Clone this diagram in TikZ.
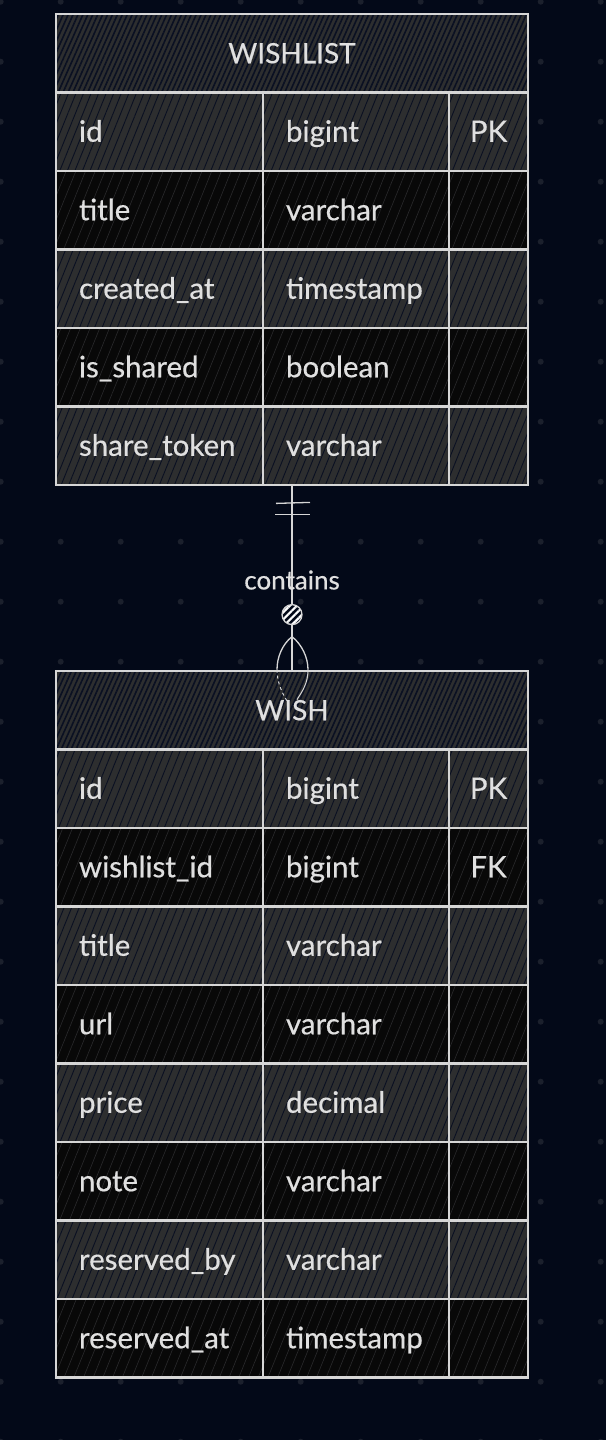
\documentclass[tikz,border=0pt]{standalone}
\usepackage{fontspec}
\setmainfont{Lato}
\newfontfamily\erfont{Lato}[FakeBold=0.5]
\usetikzlibrary{patterns.meta,fit}
\definecolor{bgnavy}{RGB}{3,9,24}
\definecolor{gridgray}{RGB}{27,32,44}
\definecolor{edge}{RGB}{214,214,214}
\definecolor{ink}{RGB}{224,224,224}
\definecolor{rowgray}{RGB}{45,46,47}
\definecolor{rowblack}{RGB}{8,8,8}
\definecolor{hatchnavy}{RGB}{10,16,34}
\definecolor{hatchgray}{RGB}{42,42,44}
\newcommand{\ercell}[4][]{\node[cellbox,#1] at (#2) (#3) {#4}}

\tikzset{
  cellbox/.style={draw=edge,line width=2.4pt,inner sep=0pt,minimum height=78.5pt,
    text height=21pt,text depth=1pt,text=ink,font=\erfont\fontsize{29.5}{34}\selectfont},
  graycell/.style={preaction={fill=rowgray},pattern={Lines[angle=68,distance=7pt,line width=0.9pt]},pattern color=hatchnavy},
  blackcell/.style={preaction={fill=rowblack},pattern={Lines[angle=68,distance=9pt,line width=0.6pt]},pattern color=hatchgray},
  headcell/.style={preaction={fill=rowgray},pattern={Lines[angle=66,distance=4.5pt,line width=1.6pt]},pattern color=hatchnavy,
    minimum width=472pt,font=\erfont\fontsize{28}{32}\selectfont},
  namecol/.style={text width=161pt,inner xsep=23pt,align=left},
  typecol/.style={text width=140pt,inner xsep=23pt,align=left},
  keycol/.style={minimum width=79pt},
  relline/.style={draw=edge,line width=1.3pt},
}

\begin{document}
\begin{tikzpicture}[x=1pt,y=-1pt]
  \fill[bgnavy] (0,0) rectangle (606,1440);
  \useasboundingbox (0,0) rectangle (606,1440);
  % dot grid
  \foreach \gx in {0,...,10}
    \foreach \gy in {0,...,24}
      \fill[gridgray] (0.7+60*\gx,1.7+60*\gy) circle (3pt);

  % WISHLIST
  \ercell[headcell]{292,53.25}{wl-head}{WISHLIST};
  \foreach \fname/\ftype/\fkey [count=\i] in {id/bigint/PK, title/varchar/{},
      created\_at/timestamp/{}, is\_shared/boolean/{}, share\_token/varchar/{}} {
    \ifodd\i \def\rowsty{graycell}\else \def\rowsty{blackcell}\fi
    \ercell[namecol,\rowsty]{159.5,53.25+78.5*\i}{wl-\i-name}{\fname};
    \ercell[typecol,\rowsty]{356,53.25+78.5*\i}{wl-\i-type}{\ftype};
    \ercell[keycol,\rowsty]{488.5,53.25+78.5*\i}{wl-\i-key}{\fkey};
  }
  \node[fit=(wl-head)(wl-5-name)(wl-5-key),inner sep=0pt] (wlist) {};

  % WISH
  \ercell[headcell]{292,710.25}{wh-head}{WISH};
  \foreach \fname/\ftype/\fkey [count=\i] in {id/bigint/PK, wishlist\_id/bigint/FK,
      title/varchar/{}, url/varchar/{}, price/decimal/{}, note/varchar/{},
      reserved\_by/varchar/{}, reserved\_at/timestamp/{}} {
    \ifodd\i \def\rowsty{graycell}\else \def\rowsty{blackcell}\fi
    \ercell[namecol,\rowsty]{159.5,710.25+78.5*\i}{wh-\i-name}{\fname};
    \ercell[typecol,\rowsty]{356,710.25+78.5*\i}{wh-\i-type}{\ftype};
    \ercell[keycol,\rowsty]{488.5,710.25+78.5*\i}{wh-\i-key}{\fkey};
  }
  \node[fit=(wh-head)(wh-8-name)(wh-8-key),inner sep=0pt] (wish) {};

  % relationship: one wishlist -- zero or more wishes
  \draw[relline] (wlist.south) -- (wish.north);
  \draw[relline] ([shift={(-16,17)}]wlist.south) -- ++(34,-1);
  \draw[relline] ([shift={(-17,28)}]wlist.south) -- ++(35,0);
  \node[anchor=base,text=ink,font=\erfont\fontsize{26}{30}\selectfont] (rel-lbl)
    at ([shift={(0,103)}]wlist.south) {contains};
  \node[circle,draw=edge,line width=1.3pt,minimum size=20pt,inner sep=0pt,
    preaction={fill=bgnavy},pattern={Lines[angle=45,distance=5pt,line width=2.2pt]},
    pattern color=white] (rel-opt) at ([shift={(0,-55)}]wish.north) {};
  \coordinate (rel-apex) at ([shift={(0,-33)}]wish.north);
  \draw[relline] (rel-apex) .. controls +(-10,8) and +(0,-12) .. ([xshift=-15pt]wish.north);
  \draw[relline] (rel-apex) .. controls +(10,8) and +(0,-12) .. ([xshift=16pt]wish.north);
  \draw[relline,line width=1pt,dashed] ([xshift=-15pt]wish.north) .. controls +(0,14) and +(-5,-8) .. ([shift={(-4,33)}]wish.north);
  \draw[relline,line width=1pt] ([xshift=16pt]wish.north) .. controls +(0,14) and +(5,-8) .. ([shift={(5,30)}]wish.north);
\end{tikzpicture}
\end{document}
